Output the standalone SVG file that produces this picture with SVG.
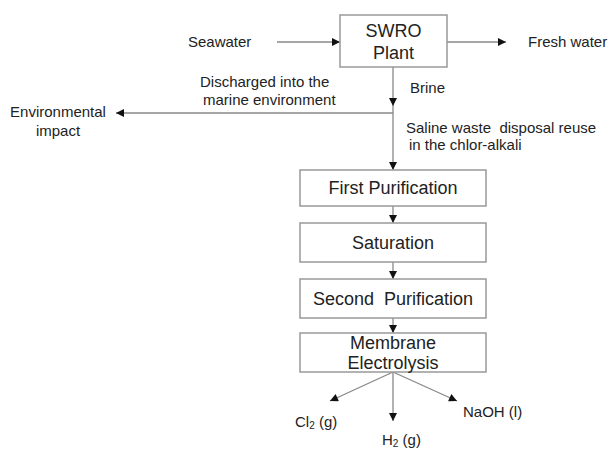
<svg xmlns="http://www.w3.org/2000/svg" width="610" height="450" viewBox="0 0 610 450">
<style>
text{font-family:"Liberation Sans",Arial,sans-serif;font-size:15px;fill:#222}
.b{font-size:18px}
.box{fill:#fff;stroke:#999;stroke-width:1.5}
.c{fill:none;stroke:#888;stroke-width:1.3}
</style>
<defs>
<marker id="ah" viewBox="0 0 10 10" refX="10" refY="5" markerWidth="9" markerHeight="8" markerUnits="userSpaceOnUse" orient="auto">
<path d="M0,0 L10,5 L0,10 Z" fill="#111"/>
</marker>
</defs>
<rect width="610" height="450" fill="#fff"/>
<g id="connectors">
<line class="c" x1="277" y1="42" x2="340" y2="42" marker-end="url(#ah)"/>
<line class="c" x1="447" y1="42" x2="506" y2="42" marker-end="url(#ah)"/>
<line class="c" x1="393" y1="67" x2="393" y2="106" marker-end="url(#ah)"/>
<line class="c" x1="393" y1="106" x2="393" y2="170" marker-end="url(#ah)"/>
<line class="c" x1="393" y1="113" x2="116" y2="113" marker-end="url(#ah)"/>
<line class="c" x1="393" y1="206" x2="393" y2="223" marker-end="url(#ah)"/>
<line class="c" x1="393" y1="262" x2="393" y2="279" marker-end="url(#ah)"/>
<line class="c" x1="393" y1="318" x2="393" y2="333" marker-end="url(#ah)"/>
<line class="c" x1="393" y1="372" x2="330" y2="401" marker-end="url(#ah)"/>
<line class="c" x1="393" y1="372" x2="393" y2="421" marker-end="url(#ah)"/>
<line class="c" x1="393" y1="372" x2="457" y2="401" marker-end="url(#ah)"/>
</g>
<g id="swro">
<rect class="box" x="340" y="15" width="107" height="52"/>
<text class="b" x="393.5" y="36.5" text-anchor="middle">SWRO</text>
<text class="b" x="393.5" y="58.5" text-anchor="middle">Plant</text>
</g>
<g id="seawater"><text x="188" y="47">Seawater</text></g>
<g id="freshwater"><text x="528" y="47">Fresh water</text></g>
<g id="discharged">
<text x="200" y="87">Discharged into the</text>
<text x="203" y="105">marine environment</text>
</g>
<g id="brine"><text x="410" y="93">Brine</text></g>
<g id="env">
<text x="58" y="117" text-anchor="middle">Environmental</text>
<text x="58" y="136" text-anchor="middle">impact</text>
</g>
<g id="saline">
<text x="406" y="133" xml:space="preserve">Saline waste  disposal reuse</text>
<text x="409" y="150">in the chlor-alkali</text>
</g>
<g id="first">
<rect class="box" x="300" y="170" width="186" height="36"/>
<text class="b" x="393" y="193.5" text-anchor="middle">First Purification</text>
</g>
<g id="saturation">
<rect class="box" x="300" y="223" width="186" height="39"/>
<text class="b" x="393" y="248.5" text-anchor="middle">Saturation</text>
</g>
<g id="second">
<rect class="box" x="300" y="279" width="186" height="39"/>
<text class="b" x="393" y="304.5" text-anchor="middle" xml:space="preserve">Second  Purification</text>
</g>
<g id="membrane">
<rect class="box" x="300" y="333" width="186" height="39"/>
<text class="b" x="393" y="348.5" text-anchor="middle">Membrane</text>
<text class="b" x="393" y="368.5" text-anchor="middle">Electrolysis</text>
</g>
<g id="cl2"><text x="295" y="427">Cl<tspan font-size="10" dy="2">2</tspan><tspan dy="-2"> (g)</tspan></text></g>
<g id="h2"><text x="382" y="445">H<tspan font-size="10" dy="2">2</tspan><tspan dy="-2"> (g)</tspan></text></g>
<g id="naoh"><text x="463" y="417">NaOH (l)</text></g>
</svg>
